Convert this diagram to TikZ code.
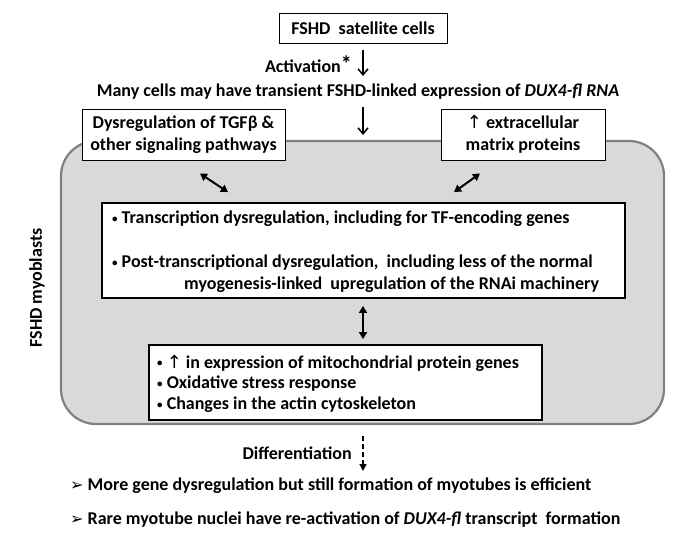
\documentclass[tikz,border=0pt]{standalone}
\usepackage{fontspec}
\setmainfont{Carlito}
\newfontfamily\symfont{DejaVu Sans}
\usetikzlibrary{arrows.meta}

\definecolor{cellgray}{HTML}{D9D9D9}
\definecolor{rimgray}{HTML}{808080}

\newcommand{\bul}{\raisebox{1.6pt}{\fontsize{11}{11}\selectfont •}}
\newcommand{\uparr}{{\symfont\mdseries ↑}}
\newcommand{\tip}{{\symfont\mdseries\fontsize{16}{16}\selectfont ➢}}

\tikzset{
  thinbox/.style={draw, line width=1pt, fill=white, inner sep=0pt, align=center},
  bigbox/.style={draw, line width=1.8pt, fill=white, inner sep=0pt},
  txt/.style={inner sep=0pt, anchor=west},
  downarrow/.style={line width=1.5pt, -{Straight Barb[length=6pt,width=10pt]}},
  dblarrow/.style={line width=2pt, {Triangle[length=7pt,width=8pt]}-{Triangle[length=7pt,width=8pt]}},
  dasharrow/.style={line width=1.4pt, dash pattern=on 5pt off 3pt, -{Triangle[length=7pt,width=7pt]}}
}

\begin{document}
\begin{tikzpicture}[x=1pt, y=-1pt, font=\bfseries\fontsize{18}{22}\selectfont]
\useasboundingbox (0,0) rectangle (685,546);

% grosse graue Zelle
\node[draw=rimgray, fill=cellgray, line width=2.2pt, rounded corners=35pt,
      minimum width=603pt, minimum height=283pt, inner sep=0pt] (myo) at (362.5,282.5) {};
\node[rotate=90, inner sep=0pt] (myolabel) at (37,288) {FSHD myoblasts};

% oben
\node[thinbox, minimum width=168pt, minimum height=30pt] (sat) at (363,28) {FSHD\ \ satellite cells};
\node[inner sep=0pt, anchor=east] (act) at (352,64) {Activation\raisebox{1pt}{\fontsize{22}{22}\selectfont*}};
\node[inner sep=0pt] (many) at (358,92) {Many cells may have transient FSHD-linked expression of \textit{DUX4-fl RNA}};

% Seitenboxen
\node[thinbox, minimum width=203pt, minimum height=51pt] (tgf) at (183.5,134.5)
  {Dysregulation of TGFβ \&\\ other signaling pathways};
\node[thinbox, minimum width=164pt, minimum height=51pt] (ecm) at (523,134.5)
  {\uparr{} extracellular\\ matrix proteins};

% mittlere Box
\node[bigbox, minimum width=523pt, minimum height=95pt] (mid) at (363.5,250.5) {};
\node[txt] (mid1) at (112,219) {\bul{} Transcription dysregulation, including for TF-encoding genes};
\node[txt] (mid2) at (112,263) {\bul{} Post-transcriptional dysregulation,\ \ including less of the normal};
\node[txt] (mid3) at (184,285) {myogenesis-linked\ \ upregulation of the RNAi machinery};

% untere Box
\node[bigbox, minimum width=393pt, minimum height=75pt] (low) at (345.5,382.5) {};
\node[txt] (low1) at (157,363) {\bul{} \uparr{} in expression of mitochondrial protein genes};
\node[txt] (low2) at (157,384) {\bul{} Oxidative stress response};
\node[txt] (low3) at (157,405) {\bul{} Changes in the actin cytoskeleton};

% unten
\node[inner sep=0pt, anchor=east] (diff) at (352,453) {Differentiation};
\node[txt] (more) at (70,486) {\tip{} More gene dysregulation but still formation of myotubes is efficient};
\node[txt] (rare) at (70,520) {\tip{} Rare myotube nuclei have re-activation of \textit{DUX4-fl} transcript\ \ formation};

% Pfeile
\coordinate (a1s) at (363,50);
\coordinate (a1e) at (363,76);
\coordinate (a2s) at (363,107);
\coordinate (a2e) at (363,135);
\draw[downarrow] (a1s) -- (a1e); % Aktivierung
\draw[downarrow] (a2s) -- (a2e); % in die Zelle
\draw[dblarrow] ([shift={(16.5,13)}]tgf.south) -- ([shift={(-135.5,-10)}]mid.north); % TGFb
\draw[dblarrow] ([shift={(-43,13)}]ecm.south) -- ([shift={(90.5,-10)}]mid.north); % ECM
\draw[dblarrow] ([shift={(-0.5,7)}]mid.south) -- ([shift={(17.5,-5)}]low.north); % Mitte-unten
\coordinate (d1) at (363,436);
\coordinate (d2) at (363,471);
\draw[dasharrow] (d1) -- (d2); % Differenzierung

\end{tikzpicture}
\end{document}
